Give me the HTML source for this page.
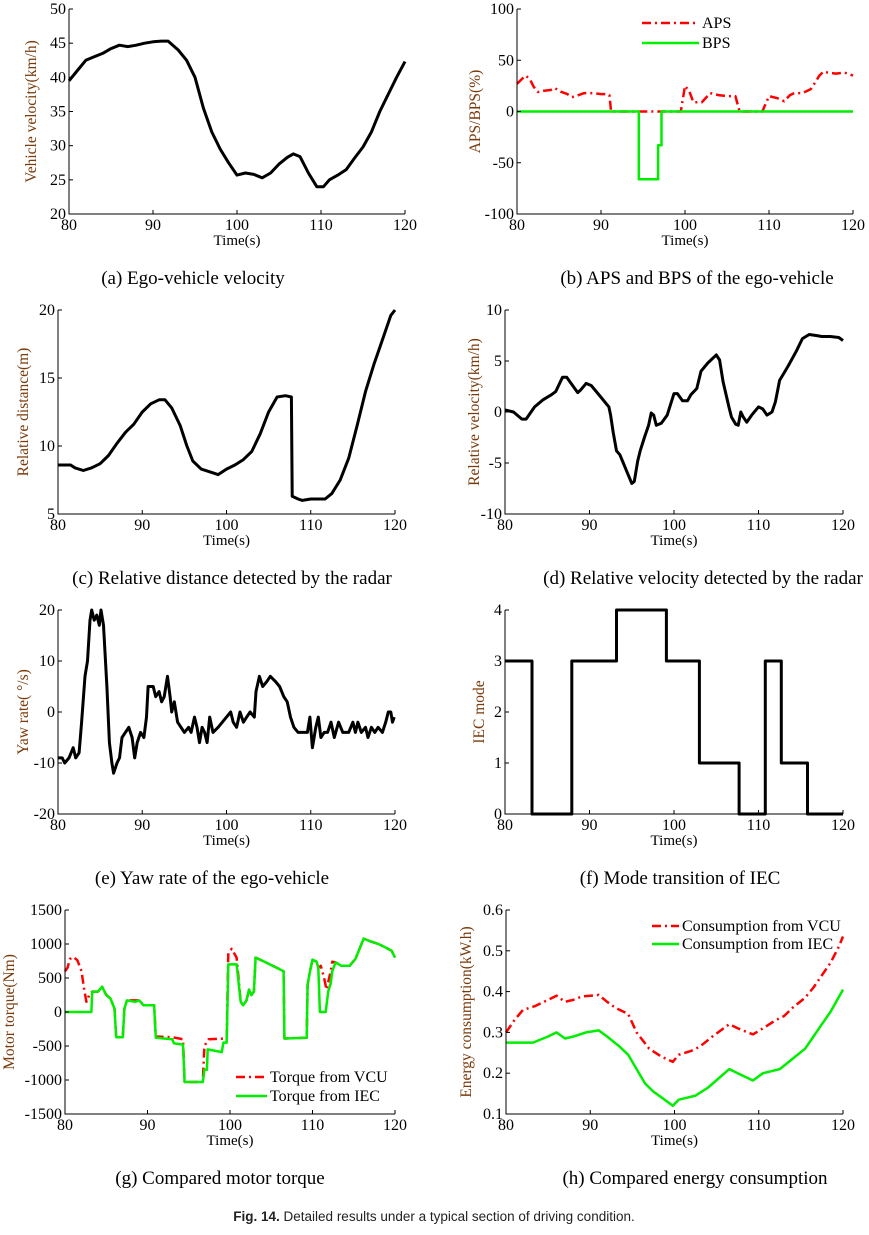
<!DOCTYPE html>
<html><head><meta charset="utf-8">
<style>
body{margin:0;background:#fff;}
svg{display:block;font-family:"Liberation Serif",serif;}
.tk{font-size:16px;fill:#000;}
.lg{font-size:16px;fill:#000;}
.yt{font-size:15.5px;fill:#7a3a0a;}
.xt{font-size:15px;fill:#000;}
.cap{font-size:19px;fill:#000;}
</style></head>
<body>
<svg id="fig" width="869" height="1235" viewBox="0 0 869 1235" xmlns="http://www.w3.org/2000/svg">
<text class="cap" x="193" y="284" text-anchor="middle">(a) Ego-vehicle velocity</text>
<text class="cap" x="697" y="284" text-anchor="middle">(b) APS and BPS of the ego-vehicle</text>
<text class="cap" x="232" y="584" text-anchor="middle">(c) Relative distance detected by the radar</text>
<text class="cap" x="703" y="584" text-anchor="middle">(d) Relative velocity detected by the radar</text>
<text class="cap" x="212" y="884" text-anchor="middle">(e) Yaw rate of the ego-vehicle</text>
<text class="cap" x="680" y="884" text-anchor="middle">(f) Mode transition of IEC</text>
<text class="cap" x="220" y="1184" text-anchor="middle">(g) Compared motor torque</text>
<text class="cap" x="695" y="1184" text-anchor="middle">(h) Compared energy consumption</text>
<text x="434" y="1221" text-anchor="middle" style="font-family:'Liberation Sans',sans-serif;font-size:13.5px;fill:#222"><tspan font-weight="bold">Fig. 14.</tspan> Detailed results under a typical section of driving condition.</text>
</svg>
<script>
// ---- data (time in s) ----
const xTicks=[80,90,100,110,120];
const aT=[80,81,82,83,84,85,86,87,88,89,90,91,91.8,93,94,95,96,97,98,99,100,101,102,103,104,105,106,106.7,107.5,108.5,109.5,110.3,111,112,113,114,115,116,117,118,119,120];
const aV=[39.5,41,42.5,43,43.5,44.2,44.7,44.5,44.7,45,45.2,45.3,45.3,44,42.5,40,35.5,32,29.5,27.5,25.7,26,25.8,25.3,26,27.3,28.3,28.8,28.4,26,24,24,25,25.7,26.5,28.2,29.8,32,35,37.5,40,42.3];
const aTicks=[20,25,30,35,40,45,50];
const bApsT=[80,81,81.5,82,82.5,83,84,84.5,85,86,86.5,87,88,89,90,90.5,91,91.2,99.5,100,100.5,101,102,103,104,105,106,106.5,109.2,110,111,111.8,112.5,113,114,115,116,116.5,117,118,119,120];
const bApsV=[27,35,32,24,19,20,21,23,20,17,14,15,18,18,17,17,16,0,0,25,20,9,9,18,16,15,15,0,0,15,13,10,16,18,18,22,35,39,38,37,38,35];
const bBpsT=[80,94.5,94.5,96.8,96.8,97.2,97.2,120];
const bBpsV=[0,0,-66,-66,-33,-33,0,0];
const bTicks=[-100,-50,0,50,100];
const cT=[80,81.5,82,83,84,85,86,87,88,89,90,91,92,92.7,93.5,94.5,95.3,96,97,98,99,100,101,102,103,104,105,106,107,107.7,107.8,108.5,109,110,111,111.7,112.5,113.5,114.5,115.5,116.5,117.5,118.5,119.5,120];
const cV=[8.6,8.6,8.4,8.2,8.4,8.7,9.3,10.2,11,11.6,12.5,13.1,13.4,13.4,12.8,11.5,10,8.9,8.3,8.1,7.9,8.3,8.6,9,9.6,10.9,12.5,13.6,13.7,13.6,6.3,6.1,6,6.1,6.1,6.1,6.5,7.5,9.1,11.5,14,16,17.8,19.6,20];
const cTicks=[5,10,15,20];
const dT=[80,81,82,82.5,83.5,84.5,85.5,86,86.8,87.3,88,88.6,89,89.6,90.2,91,91.8,92.3,92.5,92.8,93.2,93.6,94,94.5,95,95.3,95.7,96,96.5,97,97.3,97.6,97.9,98.5,99.2,100,100.4,101,101.6,102,102.7,103.2,104,105,105.4,105.8,106.5,106.8,107.3,107.6,107.9,108.2,108.6,109.2,110,110.5,111,111.6,112,112.5,113.5,114.5,115.2,116,116.8,117.5,118.5,119.5,120];
const dV=[0.2,0,-0.7,-0.7,0.5,1.2,1.7,2,3.4,3.4,2.6,1.9,2.2,2.8,2.6,1.8,1,0.5,-0.3,-2,-3.8,-4.2,-5,-6,-7,-6.8,-4.8,-3.8,-2.5,-1.3,-0.1,-0.3,-1.3,-1.1,-0.3,1.8,1.8,1.1,1.1,1.7,2.3,4,4.8,5.6,5.1,3,0.5,-0.5,-1.2,-1.3,0,-0.5,-1,-0.3,0.5,0.3,-0.3,0,1,3.1,4.5,6,7.2,7.6,7.5,7.4,7.4,7.3,7];
const dTicks=[-10,-5,0,5,10];
const eT=[80,80.5,80.8,81.3,81.8,82.1,82.5,82.8,83.2,83.5,83.8,84,84.3,84.6,84.9,85.1,85.4,85.8,86.1,86.4,86.6,87,87.3,87.6,88,88.4,88.8,89.1,89.4,89.8,90.2,90.5,90.7,91.3,91.6,92,92.3,92.6,93,93.3,93.5,93.8,94.2,94.6,95,95.5,95.8,96.2,96.5,96.8,97.1,97.4,97.7,98,98.4,99,99.5,100,100.5,100.8,101.2,101.6,102,102.4,102.8,103.3,103.5,103.9,104.3,104.8,105.2,105.8,106.3,106.8,107.2,107.6,108,108.5,109,109.6,109.9,110.2,110.6,110.9,111.2,111.6,112,112.4,112.8,113.3,113.8,114.5,115,115.3,115.6,116,116.5,116.8,117.2,117.6,118,118.5,118.9,119.2,119.5,119.7,119.9];
const eV=[-9,-9,-10,-9,-7,-9,-8,-2,7,10,18,20,18,19,17,20,17,5,-6,-10,-12,-10,-9,-5,-4,-3,-5,-9,-6,-4,-5,-1,5,5,3,4,2,3,7,3,0,2,-2,-3,-4,-3,-4,-1,-3,-6,-3,-4,-6,-1,-4,-3,-2,-1,0,-2,-3,0,-2,-1,0,-1,4,7,5,6,7,6,5,3,2,-1,-3,-4,-4,-4,-1,-7,-3,-1,-5,-4,-4,-2,-5,-2,-4,-4,-2,-4,-2,-4,-3,-5,-3,-4,-3,-4,-2,0,0,-2,-1];
const eTicks=[-20,-10,0,10,20];
const fT=[80,83.2,83.2,87.9,87.9,93.2,93.2,99.1,99.1,103,103,107.7,107.7,110.8,110.8,112.7,112.7,115.8,115.8,120];
const fV=[3,3,0,0,3,3,4,4,3,3,1,1,0,0,3,3,1,1,0,0];
const fTicks=[0,1,2,3,4];
const gVcuT=[80,80.3,80.6,81,81.5,82,82.3,82.6,83,83.3,84,84.5,85,85.5,86,86.2,87,87.2,87.5,89,89.5,90.8,91,93,94.3,94.5,96.7,96.9,97.4,99.6,99.8,100.2,100.8,101.3,101.6,102,102.3,102.6,102.9,103.1,104,105,106.5,106.6,109.3,109.4,109.7,110,110.5,110.7,111,111.4,111.7,112.2,112.4,112.8,113.5,114.5,115.2,116.2,117,118,119,119.6,120];
const gVcuV=[600,650,780,810,760,600,350,150,270,300,300,370,250,200,50,-370,-370,50,170,170,100,100,-360,-370,-400,-1030,-1030,-500,-400,-390,870,930,800,150,100,170,330,250,300,800,750,690,600,-390,-380,400,600,770,740,650,680,500,330,600,740,730,680,680,780,1080,1040,1000,940,900,800];
const gIecT=[80,83.2,83.3,84,84.5,85,85.5,86,86.2,87,87.2,87.5,88.5,89,89.5,90.8,91,92,93,93.2,94.3,94.5,96.7,96.9,97.2,97.3,99,99.2,99.6,99.8,100.8,101.3,101.6,102,102.3,102.6,102.9,103.1,104,105,106.5,106.6,109.3,109.4,109.7,110,110.5,110.7,110.9,111.6,111.9,112.2,112.4,112.8,113.5,114.5,115.2,116.2,117,118,119,119.6,120];
const gIecV=[0,0,300,300,370,250,200,50,-370,-370,50,170,150,170,100,100,-380,-390,-400,-460,-480,-1030,-1030,-850,-850,-550,-590,-450,-450,700,700,150,100,170,330,250,300,800,750,690,600,-390,-380,400,600,770,740,650,0,0,300,420,600,730,680,680,780,1080,1040,1000,940,900,800];
const gTicks=[-1500,-1000,-500,0,500,1000,1500];
const hVcuT=[80,81,82,83.5,85,86,87,88,89,90,91,92,93,94.5,95.5,97,98.5,99.8,100.5,102,103,104.5,106.5,107.5,109.3,110.5,112,113,114,115.5,116.5,117.5,118.5,119.5,120];
const hVcuV=[0.3,0.33,0.355,0.365,0.38,0.39,0.375,0.38,0.388,0.39,0.392,0.375,0.36,0.345,0.3,0.26,0.24,0.228,0.245,0.255,0.265,0.29,0.32,0.31,0.295,0.31,0.33,0.34,0.36,0.385,0.41,0.44,0.47,0.51,0.535];
const hIecT=[80,83.2,85,86,87,88,89.5,91,92,93.5,94.5,95.5,96.5,97.5,98.5,99.8,100.5,101.5,102.5,104,106.5,107.5,109.3,110.5,111.5,112.5,114,115.5,116.5,117.5,118.5,120];
const hIecV=[0.275,0.275,0.29,0.3,0.285,0.29,0.3,0.305,0.29,0.265,0.245,0.21,0.175,0.155,0.14,0.12,0.135,0.14,0.145,0.165,0.21,0.2,0.182,0.2,0.205,0.21,0.235,0.26,0.29,0.32,0.35,0.405];
const hTicks=[0.1,0.2,0.3,0.4,0.5,0.6];

const NS="http://www.w3.org/2000/svg";
const svg=document.getElementById('fig');
function mk(tag,attrs,parent){const e=document.createElementNS(NS,tag);for(const k in attrs)e.setAttribute(k,attrs[k]);(parent||svg).appendChild(e);return e;}

function panel(id,box,yTicks,ytitle,series,legend,ytx){
  const g=mk('g',{});
  
  
  const [L,R,T,B]=box;const y0=yTicks[0],y1=yTicks[yTicks.length-1];
  const sx=v=>L+(v-80)/40*(R-L);
  const sy=v=>B-(v-y0)/(y1-y0)*(B-T);
  series.forEach(s=>{
    const pts=s.t.map((t,i)=>sx(t).toFixed(1)+','+sy(s.v[i]).toFixed(1)).join(' ');
    const p=mk('polyline',{points:pts,fill:'none',stroke:s.c,'stroke-width':s.w,'stroke-linejoin':'round','stroke-dasharray':s.d||'none'},g);
    
    
  });
  const ax=mk('path',{d:`M${L},${T}V${B}H${R}`,fill:'none',stroke:'#000','stroke-width':1},g);
  
  
  yTicks.forEach(v=>{
    const y=sy(v);
    mk('line',{x1:L,x2:L+4,y1:y,y2:y,stroke:'#000'},g);
    const t=mk('text',{x:L-3,y:y+5,'text-anchor':'end',class:'tk'},g);
    t.textContent=v;
    
    
  });
  xTicks.forEach(v=>{
    const x=sx(v);
    mk('line',{x1:x,x2:x,y1:B,y2:B-4,stroke:'#000'},g);
    const t=mk('text',{x:x,y:B+16,'text-anchor':'middle',class:'tk'},g);
    t.textContent=v;
    
    
  });
  const xt=mk('text',{x:(L+R)/2,y:B+31,'text-anchor':'middle',class:'xt'},g);
  xt.textContent='Time(s)';
  
  
  const yx=ytx,yy=(T+B)/2;
  const yt=mk('text',{x:yx,y:yy,'text-anchor':'middle',class:'yt',transform:`rotate(-90 ${yx} ${yy})`},g);
  yt.textContent=ytitle;
  
  
  if(legend){
    legend.items.forEach((it,i)=>{
      const y=legend.y+i*legend.dy;
      mk('line',{x1:legend.x,x2:legend.x+legend.len,y1:y,y2:y,stroke:it.c,'stroke-width':it.w,'stroke-dasharray':it.d||'none'},g);
      const t=mk('text',{x:legend.x+legend.len+3,y:y+5,class:'lg'},g);
      t.textContent=it.label;
      
      
    });
  }
}
const K='#000',RD='#ff0000',GN='#00ee00',DD='9,4,2,4';
panel('a',[69,405,9,214],aTicks,'Vehicle velocity(km/h)',[{n:'velocity',t:aT,v:aV,c:K,w:3}],null,36);
panel('b',[517,853,9,214],bTicks,'APS/BPS(%)',[{n:'aps',t:bApsT,v:bApsV,c:RD,w:2.5,d:DD},{n:'bps',t:bBpsT,v:bBpsV,c:GN,w:2.5}],
  {x:642,y:23,dy:20,len:57,items:[{label:'APS',c:RD,w:2.5,d:DD},{label:'BPS',c:GN,w:2.5}]},480);
panel('c',[58,395,310,514],cTicks,'Relative distance(m)',[{n:'distance',t:cT,v:cV,c:K,w:3}],null,28);
panel('d',[505,843,310,514],dTicks,'Relative velocity(km/h)',[{n:'rel-velocity',t:dT,v:dV,c:K,w:3}],null,479);
panel('e',[58,395,610,814],eTicks,'Yaw rate(  °/s)',[{n:'yaw-rate',t:eT,v:eV,c:K,w:3}],null,28);
panel('f',[505,843,610,814],fTicks,'IEC mode',[{n:'iec-mode',t:fT,v:fV,c:K,w:3}],null,484);
panel('g',[65,395,910,1114],gTicks,'Motor torque(Nm)',[{n:'torque-vcu',t:gVcuT,v:gVcuV,c:RD,w:2.5,d:DD},{n:'torque-iec',t:gIecT,v:gIecV,c:GN,w:2.5}],
  {x:236,y:1077,dy:19,len:31,items:[{label:'Torque from VCU',c:RD,w:2.5,d:DD},{label:'Torque from IEC',c:GN,w:2.5}]},14);
panel('h',[506,843,910,1114],hTicks,'Energy consumption(kW.h)',[{n:'energy-vcu',t:hVcuT,v:hVcuV,c:RD,w:2.5,d:DD},{n:'energy-iec',t:hIecT,v:hIecV,c:GN,w:2.5}],
  {x:652,y:926,dy:18,len:27,items:[{label:'Consumption from VCU',c:RD,w:2.5,d:DD},{label:'Consumption from IEC',c:GN,w:2.5}]},471);
</script>
</body></html>
